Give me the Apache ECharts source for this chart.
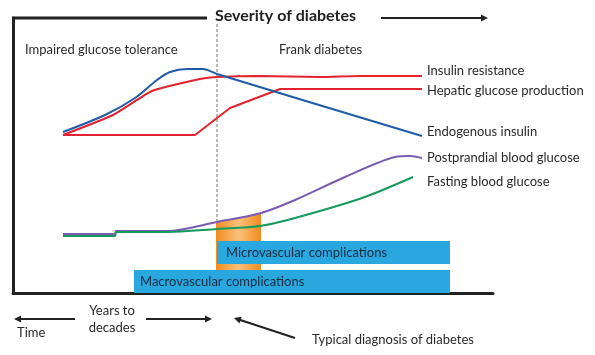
<!DOCTYPE html>
<html><head><meta charset="utf-8">
<script src="https://cdn.jsdelivr.net/npm/echarts@6/dist/echarts.min.js"></script>
<style>html,body{margin:0;padding:0;background:#fff}#c{width:595px;height:355px}</style>
</head><body><div id="c"></div>
<script>
// Schematic values: x = time (arbitrary units), y = level (arbitrary units)
const endogenousInsulin = [[50,161],[92,178],[122,195],[144,213],[157,221],[174,224],[190,224],[204,219],[409,157]];
const insulinResistance = [[50,158],[100,178],[139,202],[187,214],[204,216],[247,217],[307,216],[347,217],[409,217]];
const hepaticGlucose = [[50,158],[182,158],[217,185],[267,204],[409,204]];
const postprandialGlucose = [[50,59],[102,59],[103,62],[154,62],[204,71],[248,80],[282,93],[332,116],[382,136],[397,137],[409,135]];
const fastingGlucose = [[50,57],[102,57],[103,61],[154,61],[204,64],[247,67],[282,75],[349,95],[400,116]];
const diagnosisX = 204;
const orangeTop = [[203,71],[225,75],[248,80]];
const complicationNames = ['Microvascular complications','Macrovascular complications'];
const complicationRanges = [[204,437,29,52],[121,437,0,23]];
const seriesNames = ['Insulin resistance','Hepatic glucose production','Endogenous insulin','Postprandial blood glucose','Fasting blood glucose'];

const FONT = 'Lato';
const TXT = '#2a2a2a';
const chart = echarts.init(document.getElementById('c'), null, {renderer:'canvas'});

function lineSeries(name, data, color, smooth, labelDist, labelDy){
  return {
    type:'line', name, data, smooth, symbol:'none', z:5,
    lineStyle:{color, width:2},
    endLabel:{show:true, formatter:name, color:TXT, fontFamily:FONT, fontSize:13, distance:labelDist, offset:[0,labelDy]},
    animation:false
  };
}

function arrowHead(x,y,ang){
  const L=7, W=3.5;
  const bx = x - L*Math.cos(ang), by = y - L*Math.sin(ang);
  const nx = -Math.sin(ang), ny = Math.cos(ang);
  return {type:'polygon', shape:{points:[[x,y],[bx+nx*W,by+ny*W],[bx-nx*W,by-ny*W]]}, style:{fill:'#222'}};
}
function arrowLine(x1,y1,x2,y2){
  const ang = Math.atan2(y2-y1,x2-x1);
  return [
    {type:'line', shape:{x1,y1,x2:x2-5*Math.cos(ang),y2:y2-5*Math.sin(ang)}, style:{stroke:'#222', lineWidth:2}},
    arrowHead(x2,y2,ang)
  ];
}
function txt(text,x,y,opts){
  return {type:'text', style:Object.assign({text, x, y, fill:TXT, font:'13px '+FONT, verticalAlign:'middle'}, opts||{})};
}

const option = {
  animation:false,
  grid:{left:13, right:102, top:18, bottom:62},
  xAxis:{type:'value', min:0, max:480, axisLine:{show:true, onZero:false, lineStyle:{color:'#222', width:3}}, axisTick:{show:false}, axisLabel:{show:false}, splitLine:{show:false}},
  yAxis:{type:'value', min:0, max:275, axisLine:{show:true, lineStyle:{color:'#222', width:3}}, axisTick:{show:false}, axisLabel:{show:false}, splitLine:{show:false}},
  series:[
    {
      type:'custom', name:'diagnosis', z:1,
      data:[[diagnosisX]],
      renderItem:function(params, api){
        const p0 = api.coord([api.value(0), 275]);
        const p1 = api.coord([api.value(0), 0]);
        return {type:'line', shape:{x1:p0[0], y1:p0[1]+6, x2:p1[0], y2:p1[1]}, style:{stroke:'#777', lineWidth:1, lineDash:[3,2]}};
      }
    },
    {
      type:'custom', name:'window', z:2,
      data:[0],
      renderItem:function(params, api){
        const pts = orangeTop.map(p=>api.coord(p));
        const last = orangeTop[orangeTop.length-1], first = orangeTop[0];
        pts.push(api.coord([last[0],0]));
        pts.push(api.coord([first[0],0]));
        return {type:'polygon', shape:{points:pts}, style:{fill:new echarts.graphic.LinearGradient(0,0,1,0,[
          {offset:0,color:'#f28c1e'},{offset:0.5,color:'#f9c07a'},{offset:1,color:'#f28c1e'}])}};
      }
    },
    {
      type:'custom', name:'complications', z:3,
      data:complicationRanges,
      renderItem:function(params, api){
        const p0 = api.coord([api.value(0), api.value(3)]);
        const p1 = api.coord([api.value(1), api.value(2)]);
        return {type:'group', children:[
          {type:'rect', shape:{x:p0[0], y:p0[1], width:p1[0]-p0[0], height:p1[1]-p0[1]}, style:{fill:'#29a8df'}},
          {type:'text', style:{text:complicationNames[params.dataIndex], x:p0[0]+(params.dataIndex===0?9:6), y:(p0[1]+p1[1])/2, verticalAlign:'middle', fill:'#1d2b40', font:'13px '+FONT}}
        ]};
      }
    },
    lineSeries(seriesNames[0], insulinResistance, '#e3232f', 0.15, 5, -5),
    lineSeries(seriesNames[1], hepaticGlucose, '#e3232f', 0, 5, 2),
    lineSeries(seriesNames[2], endogenousInsulin, '#1f5ca8', 0.3, 5, -4),
    lineSeries(seriesNames[3], postprandialGlucose, '#7a5cb2', 0.3, 5, 0),
    lineSeries(seriesNames[4], fastingGlucose, '#189a5c', 0.3, 14, 5)
  ],
  graphic:[
    {type:'line', shape:{x1:12, y1:18, x2:207, y2:18}, style:{stroke:'#222', lineWidth:3}},
    txt('Severity of diabetes', 215, 16, {font:'bold 16px '+FONT, fill:'#222'}),
    ...arrowLine(381,18,488,18),
    txt('Impaired glucose tolerance', 25, 50),
    txt('Frank diabetes', 279, 50),
    ...arrowLine(75,319,14,319),
    ...arrowLine(146,319,212,319),
    ...arrowLine(295,338,234,318),
    txt('Time', 17, 333),
    txt('Years to', 112, 311, {align:'center'}),
    txt('decades', 112, 328, {align:'center'}),
    txt('Typical diagnosis of diabetes', 312, 340)
  ]
};
chart.setOption(option);
</script></body></html>
